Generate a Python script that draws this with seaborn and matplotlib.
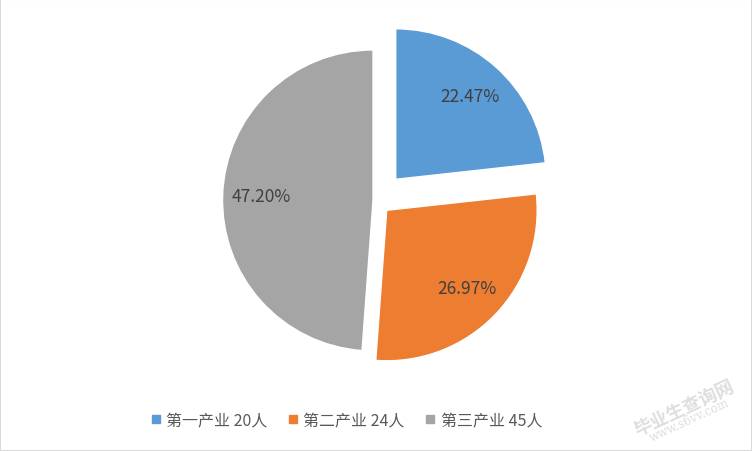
import matplotlib
matplotlib.use("Agg")
import matplotlib.pyplot as plt
from matplotlib.lines import Line2D
from matplotlib.patches import Rectangle
import seaborn as sns

categories = ["第一产业", "第二产业", "第三产业"]
legend_counts = [20, 24, 45]          # counts as written in the legend
slice_values = [20, 24, 42]           # slice sizes as drawn in the reference pie
pct_labels = ["22.47%", "26.97%", "47.20%"]  # data labels as printed
colors = ["#5B9BD5", "#ED7D31", "#A5A5A5"]
legend_labels = [f"{c} {n}人" for c, n in zip(categories, legend_counts)]

sns.set_theme(style="white")
plt.rcParams['font.family'] = ['Noto Sans CJK SC', 'DejaVu Sans']

fig = plt.figure(figsize=(7.52, 4.52), dpi=100)
fig.patch.set_facecolor("white")
ax = fig.add_axes([0.2507, 0.1378, 0.5003, 0.8324])

palette = sns.color_palette(colors)
label_iter = iter(pct_labels)
wedges, texts, autotexts = ax.pie(
    slice_values, colors=palette, startangle=90, counterclock=False,
    explode=[0.19, 0.093, 0.024], autopct=lambda p: next(label_iter),
    pctdistance=0.74,
    textprops=dict(color="#404040", fontsize=12.5),
)
ax.set_xlim(-1.25, 1.25)
ax.set_ylim(-1.25, 1.25)
ax.set_aspect("equal")

handles = [Line2D([0], [0], marker="s", linestyle="none", markersize=5.5,
                  markerfacecolor=c, markeredgecolor=c) for c in colors]
fig.legend(handles, legend_labels, loc="center", bbox_to_anchor=(0.4608, 0.0675),
           ncol=3, frameon=False, fontsize=11.5, labelcolor="#595959",
           handlelength=0.6, handletextpad=0.35, columnspacing=1.3)

# watermark
fig.text(0.9090, 0.097, "毕业生查询网", rotation=25, fontsize=13, color="#dedede",
         ha="center", va="center", fontweight="bold")
fig.text(0.9170, 0.070, "www.s6vv.com", rotation=25, fontsize=8.5, color="#dedede",
         ha="center", va="center", family=["DejaVu Serif"])

fig.patches.append(Rectangle((0, 0), 1, 1, transform=fig.transFigure, fill=False,
                             edgecolor="#d9d9d9", linewidth=1.5, zorder=10))

fig.savefig("out.png", dpi=100)
